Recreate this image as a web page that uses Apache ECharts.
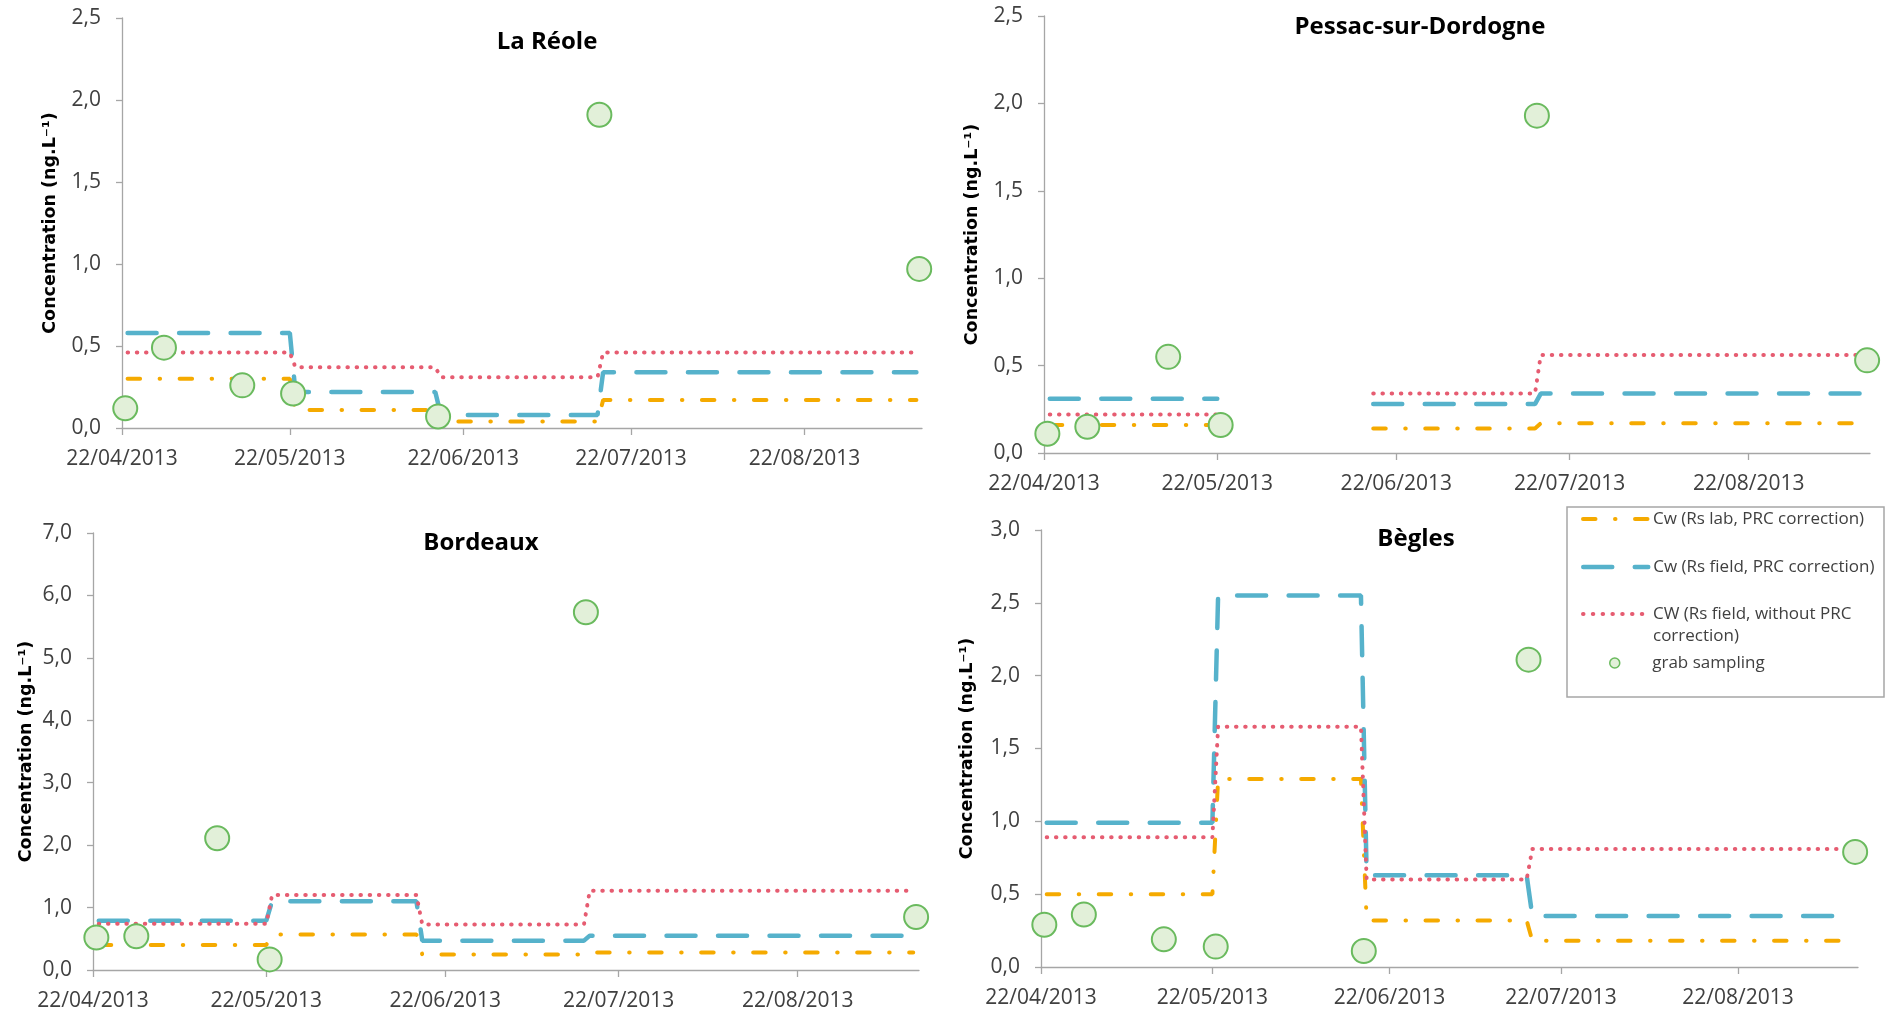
<!DOCTYPE html>
<html>
<head>
<meta charset="utf-8">
<script src="https://cdn.jsdelivr.net/npm/echarts@6/dist/echarts.min.js"></script>
<style>
html, body { margin: 0; padding: 0; background: #ffffff; }
#chart { width: 1888px; height: 1014px; }
</style>
</head>
<body>
<div id="chart"></div>
<script>
// ---------------- data ----------------
const siteNames = ['La Réole', 'Pessac-sur-Dordogne', 'Bordeaux', 'Bègles'];
const seriesNames = [
  'Cw (Rs lab, PRC correction)',
  'Cw (Rs field, PRC correction)',
  'CW (Rs field, without PRC correction)',
  'grab sampling'
];
const axisStart = '2013-04-22';
const axisEnd = '2013-09-12';
const tickDates = ['2013-04-22', '2013-05-22', '2013-06-22', '2013-07-22', '2013-08-22'];
// start / end of each passive sampler exposure period
const periodStarts = ['2013-04-23', '2013-05-23', '2013-06-18', '2013-07-17'];
const periodEnds   = ['2013-05-22', '2013-06-17', '2013-07-16', '2013-09-11'];
const grabDates = ['2013-04-22 14:00', '2013-04-29 12:00', '2013-05-13 12:00', '2013-05-22 14:00',
                   '2013-06-17 12:00', '2013-07-16 08:00', '2013-09-11 12:00'];

// La Réole
const laReoleLab   = [0.30, 0.11, 0.04, 0.17];
const laReoleField = [0.58, 0.22, 0.08, 0.34];
const laReoleNoPRC = [0.46, 0.37, 0.31, 0.46];
const laReoleGrab  = [0.12, 0.49, 0.26, 0.21, 0.07, 1.91, 0.97];
// Pessac-sur-Dordogne
const pessacLab   = [0.16, null, 0.14, 0.17];
const pessacField = [0.31, null, 0.28, 0.34];
const pessacNoPRC = [0.22, null, 0.34, 0.56];
const pessacGrab  = [0.11, 0.15, 0.55, 0.16, null, 1.93, 0.53];
// Bordeaux
const bordeauxLab   = [0.40, 0.57, 0.25, 0.28];
const bordeauxField = [0.79, 1.10, 0.47, 0.55];
const bordeauxNoPRC = [0.74, 1.20, 0.73, 1.27];
const bordeauxGrab  = [0.52, 0.54, 2.11, 0.17, null, 5.73, 0.85];
// Bègles
const beglesLab   = [0.50, 1.29, 0.32, 0.18];
const beglesField = [0.99, 2.55, 0.63, 0.35];
const beglesNoPRC = [0.89, 1.65, 0.60, 0.81];
const beglesGrab  = [0.29, 0.36, 0.19, 0.14, 0.11, 2.11, 0.79];

const yMax  = [2.5, 2.5, 7, 3];
const yStep = [0.5, 0.5, 1, 0.5];
const yAxisTitle = 'Concentration (ng.L⁻¹)';

// ---------------- layout / style ----------------
const grids = [
  { left: 122,  top: 18,  width: 800, height: 410 },
  { left: 1044, top: 16,  width: 826, height: 437 },
  { left: 93,   top: 533, width: 826, height: 437 },
  { left: 1041, top: 530, width: 817, height: 437 }
];
const titlePos = [[547, 42], [1420, 27], [481, 543], [1416, 539]];
const nameGaps = [63, 63, 58, 65];

const C_LAB = '#f5aa00', C_FIELD = '#56b2cb', C_NOPRC = '#e65c71';
const C_GRAB_FILL = '#e2f0d9', C_GRAB_LINE = '#6aba5e';
const DASH_LAB = [12.5, 19.5, 0.5, 19.5];
const DASH_FIELD = [29, 22.5];
const DASH_NOPRC = [0.5, 8.7];
const FONT = "'Open Sans', 'Liberation Sans', sans-serif";

function ts(s) {
  const parts = s.split(' ');
  const d = parts[0].split('-').map(Number);
  const t = parts[1] ? parts[1].split(':').map(Number) : [0, 0];
  return new Date(d[0], d[1] - 1, d[2], t[0], t[1]).getTime();
}
function pad(n) { return (n < 10 ? '0' : '') + n; }
function fmtDate(v) {
  const d = new Date(v);
  return pad(d.getDate()) + '/' + pad(d.getMonth() + 1) + '/' + d.getFullYear();
}
function stepData(values) {
  const pts = [];
  values.forEach(function (v, i) {
    pts.push([ts(periodStarts[i]), v]);
    pts.push([ts(periodEnds[i]), v]);
  });
  return pts;
}
function grabData(values) {
  const pts = [];
  values.forEach(function (v, i) { if (v != null) pts.push([ts(grabDates[i]), v]); });
  return pts;
}

const siteData = [
  [laReoleLab, laReoleField, laReoleNoPRC, laReoleGrab],
  [pessacLab, pessacField, pessacNoPRC, pessacGrab],
  [bordeauxLab, bordeauxField, bordeauxNoPRC, bordeauxGrab],
  [beglesLab, beglesField, beglesNoPRC, beglesGrab]
];

const xAxes = [], yAxes = [], series = [], graphics = [];
const tickTs = tickDates.map(ts);

siteData.forEach(function (sd, k) {
  xAxes.push({
    type: 'value', gridIndex: k, min: ts(axisStart), max: ts(axisEnd), scale: true,
    axisLine: { show: true, onZero: false, lineStyle: { color: '#a6a6a6', width: 1.3 } },
    axisTick: { show: true, length: 7, customValues: tickTs, lineStyle: { color: '#a6a6a6', width: 1.3 } },
    axisLabel: { customValues: tickTs, formatter: fmtDate, margin: 21, fontFamily: FONT, fontSize: 21, color: '#404040' },
    splitLine: { show: false }
  });
  yAxes.push({
    type: 'value', gridIndex: k, min: 0, max: yMax[k], interval: yStep[k],
    name: yAxisTitle, nameLocation: 'middle', nameGap: nameGaps[k],
    nameTextStyle: { fontFamily: "'DejaVu Sans', 'Open Sans', sans-serif", fontWeight: 'bold', fontSize: 17.5, color: '#000' },
    axisLine: { show: true, lineStyle: { color: '#a6a6a6', width: 1.3 } },
    axisTick: { show: true, length: 6, lineStyle: { color: '#a6a6a6', width: 1.3 } },
    axisLabel: { margin: 21, fontFamily: FONT, fontSize: 21, color: '#404040',
                 formatter: function (v) { return v.toFixed(1).replace('.', ','); } },
    splitLine: { show: false }
  });
  series.push({
    name: seriesNames[0], type: 'line', xAxisIndex: k, yAxisIndex: k, data: stepData(sd[0]),
    symbol: 'none', showSymbol: false, z: 2,
    lineStyle: { color: C_LAB, width: 4, type: DASH_LAB, cap: 'round' }, itemStyle: { color: C_LAB }
  });
  series.push({
    name: seriesNames[1], type: 'line', xAxisIndex: k, yAxisIndex: k, data: stepData(sd[1]),
    symbol: 'none', showSymbol: false, z: 2,
    lineStyle: { color: C_FIELD, width: 4.5, type: DASH_FIELD, cap: 'round' }, itemStyle: { color: C_FIELD }
  });
  series.push({
    name: seriesNames[2], type: 'line', xAxisIndex: k, yAxisIndex: k, data: stepData(sd[2]),
    symbol: 'none', showSymbol: false, z: 2,
    lineStyle: { color: C_NOPRC, width: 4, type: DASH_NOPRC, cap: 'round' }, itemStyle: { color: C_NOPRC }
  });
  series.push({
    name: seriesNames[3], type: 'scatter', xAxisIndex: k, yAxisIndex: k, data: grabData(sd[3]),
    symbol: 'circle', symbolSize: 24, z: 3,
    itemStyle: { color: C_GRAB_FILL, borderColor: C_GRAB_LINE, borderWidth: 2, opacity: 1 }
  });
  graphics.push({
    type: 'text', x: titlePos[k][0], y: titlePos[k][1], z: 10,
    style: { text: siteNames[k], fontFamily: FONT, fontSize: 24, fontWeight: 'bold', fill: '#000',
             align: 'center', verticalAlign: 'middle', textAlign: 'center', textVerticalAlign: 'middle' }
  });
});

graphics.push({
  type: 'rect', z: 3,
  shape: { x: 1567, y: 507, width: 317, height: 190 },
  style: { fill: '#ffffff', stroke: '#a6a6a6', lineWidth: 1.5 }
});

const legTextStyle = { fontFamily: FONT, fontSize: 17, color: '#404040', lineHeight: 22 };
const legendBase = { orient: 'horizontal', left: 1581, padding: 0, itemWidth: 65, itemGap: 0,
                     selectedMode: false, z: 10, textStyle: legTextStyle };
const legends = [
  Object.assign({}, legendBase, { data: [seriesNames[0]], top: 508, itemHeight: 22,
    itemStyle: { opacity: 0 }, lineStyle: { color: C_LAB, width: 4, type: DASH_LAB, cap: 'round' } }),
  Object.assign({}, legendBase, { data: [seriesNames[1]], top: 556, itemHeight: 22,
    itemStyle: { opacity: 0 }, lineStyle: { color: C_FIELD, width: 4.5, type: DASH_FIELD, cap: 'round' } }),
  Object.assign({}, legendBase, { data: [seriesNames[2]], top: 581, itemHeight: 22,
    itemStyle: { opacity: 0 }, lineStyle: { color: C_NOPRC, width: 4, type: [0.5, 9.3], cap: 'round' },
    formatter: function (n) { return '\n' + n.replace('PRC correction', 'PRC\ncorrection'); } }),
  Object.assign({}, legendBase, { data: [seriesNames[3]], top: 652, left: 1609, itemHeight: 10,
    itemStyle: { color: C_GRAB_FILL, borderColor: C_GRAB_LINE, borderWidth: 1.5 } })
];

const chart = echarts.init(document.getElementById('chart'), null, { renderer: 'canvas' });
chart.setOption({
  animation: false,
  backgroundColor: '#ffffff',
  grid: grids,
  xAxis: xAxes,
  yAxis: yAxes,
  legend: legends,
  graphic: graphics,
  series: series
});
</script>
</body>
</html>
